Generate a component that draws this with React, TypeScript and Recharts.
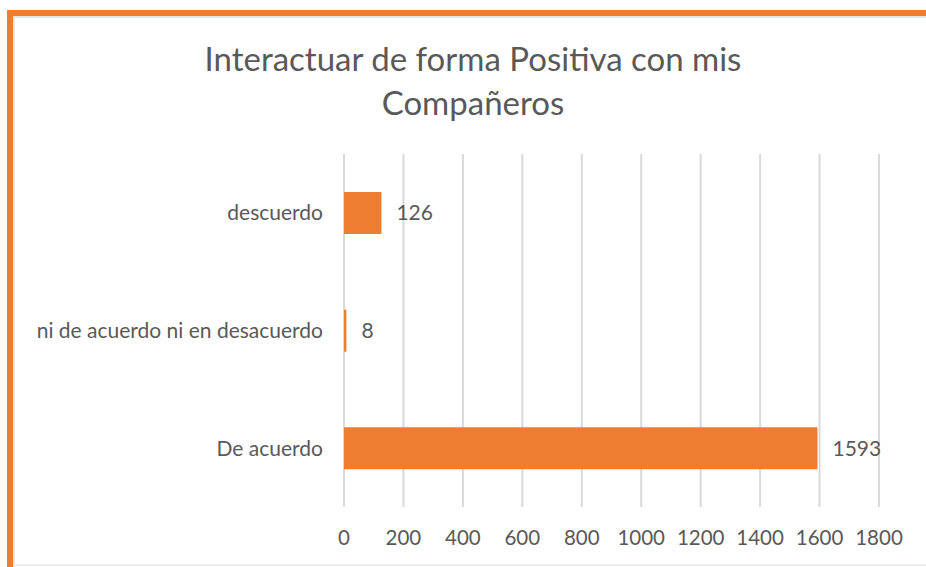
import React from "react";
import { BarChart, Bar, XAxis, YAxis, CartesianGrid, LabelList } from "recharts";

const categories = ["descuerdo", "ni de acuerdo ni en desacuerdo", "De acuerdo"];
const counts = [126, 8, 1593];
const xTicks = [0, 200, 400, 600, 800, 1000, 1200, 1400, 1600, 1800];
const titleLines = ["Interactuar de forma Positiva con mis", "Compañeros"];

const data = categories.map((name, i) => ({ name, value: counts[i] }));

const FONT = "Lato, 'Open Sans', sans-serif";
const TEXT = "#595959";
const ORANGE = "#ED7D31";

export default function App() {
  return (
    <div style={{ position: "absolute", left: 0, top: 0, width: 926, height: 567, overflow: "hidden", background: "#fff", fontFamily: FONT }}>
      <div style={{ position: "absolute", left: 7, top: 10, width: 1200, height: 800, borderTop: `6px solid ${ORANGE}`, borderLeft: `6px solid ${ORANGE}` }} />
      <div style={{ position: "absolute", left: 13, top: 16, width: 1200, height: 800, borderTop: "2px solid #e3e6e6", borderLeft: "2px solid #e3e6e6" }} />
      <div style={{ position: "absolute", left: 13, top: 564, width: 1200, height: 0, borderTop: "2px solid #ececec" }} />
      <div style={{ position: "absolute", left: 0, width: 946, top: 36, textAlign: "center", color: TEXT, fontSize: 33, lineHeight: "44px" }}>
        {titleLines.map((t, i) => (
          <div key={i}>{t}</div>
        ))}
      </div>
      <div style={{ position: "absolute", left: 0, top: 0 }}>
        <BarChart
          width={926}
          height={567}
          data={data}
          layout="vertical"
          margin={{ top: 154, right: 47, left: 0, bottom: 30 }}
        >
          <CartesianGrid horizontal={false} vertical={true} stroke="#d9d9d9" strokeWidth={2} />
          <XAxis
            type="number"
            domain={[0, 1800]}
            ticks={xTicks}
            interval={0}
            axisLine={false}
            tickLine={false}
            tickSize={0}
            tickMargin={23}
            height={30}
            tick={{ fill: TEXT, fontSize: 20.5, fontFamily: FONT }}
          />
          <YAxis
            type="category"
            dataKey="name"
            width={344}
            axisLine={false}
            tickLine={false}
            tickSize={0}
            tickMargin={21}
            tick={{ fill: TEXT, fontSize: 21, fontFamily: FONT }}
          />
          <Bar dataKey="value" fill={ORANGE} barSize={42} isAnimationActive={false}>
            <LabelList dataKey="value" position="right" offset={15} fill={TEXT} fontSize={21} fontFamily={FONT} />
          </Bar>
        </BarChart>
      </div>
    </div>
  );
}
